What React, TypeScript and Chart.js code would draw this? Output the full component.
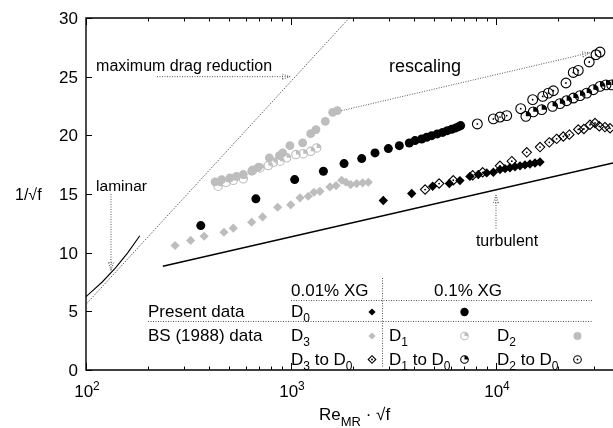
import React, { useEffect, useRef } from 'react';
import { Chart, registerables } from 'chart.js';
Chart.register(...registerables);

const FONT = '"Liberation Sans", Arial, Helvetica, sans-serif';

// ---- axis ticks ----
const yTickValues = [0, 5, 10, 15, 20, 25, 30];
const xTickExponents = [2, 3, 4];

// ---- reference lines ----
const turbulentX = [237, 37220];
const turbulentY = [8.85, 17.65];
const laminarX = [100, 120, 140, 160, 183];
const laminarY = [6.25, 7.5, 8.75, 10.0, 11.44];
const mdrX = [100, 1923];
const mdrY = [5.6, 30];

// ---- Present data, 0.01% XG, D0 ----
const d0LowX = [2820, 3880, 4910, 5920, 6670, 7460, 8200, 9010, 9710, 10460, 11070, 11700, 12380, 13100, 13850, 14650, 15500, 16390];
const d0LowY = [14.44, 15.04, 15.66, 15.89, 16.14, 16.5, 16.66, 16.8, 16.85, 17.08, 17.16, 17.24, 17.32, 17.4, 17.48, 17.56, 17.64, 17.73];

// ---- Present data, 0.1% XG, D0 ----
const d0HighX = [363, 674, 1042, 1439, 1815, 2213, 2570, 2985, 3377, 3776, 4027, 4339, 4590, 4857, 5170, 5493, 5785, 6078, 6358, 6576, 6725];
const d0HighY = [12.31, 14.59, 16.23, 16.94, 17.59, 18.02, 18.5, 18.87, 19.12, 19.35, 19.55, 19.69, 19.83, 19.97, 20.12, 20.25, 20.4, 20.51, 20.63, 20.74, 20.83];

// ---- BS (1988), D3 ----
const d3X = [272, 324, 377, 471, 523, 643, 727, 861, 997, 1107, 1214, 1294, 1384, 1549, 1659, 1767, 1854, 1955, 2091, 2237, 2383];
const d3Y = [10.61, 11.04, 11.4, 11.74, 12.09, 12.6, 13.05, 13.87, 14.08, 14.67, 14.81, 15.15, 15.23, 15.6, 15.72, 16.17, 16.0, 15.8, 15.89, 15.95, 16.0];

// ---- BS (1988), D1 ----
const d1X = [441, 482, 523, 585, 650, 706, 775, 820, 884, 952, 1057, 1148, 1248, 1335];
const d1Y = [15.66, 16.0, 16.17, 16.29, 17.02, 17.22, 17.42, 17.7, 17.79, 18.08, 18.36, 18.44, 18.64, 18.93];

// ---- BS (1988), D2 ----
const d2X = [426, 459, 504, 543, 585, 643, 693, 784, 877, 911, 988, 1140, 1248, 1324, 1470, 1596, 1682];
const d2Y = [16.03, 16.23, 16.37, 16.51, 16.66, 16.94, 17.28, 18.08, 18.27, 18.5, 19.12, 19.35, 20.14, 20.49, 21.19, 21.96, 22.1];

// ---- rescaled: D3 to D0 ----
const d3toD0X = [4510, 5280, 6190, 7700, 8610, 10460, 11940, 14130, 16400, 18200, 19770, 21300, 22790, 25200, 26840, 28750, 30420, 31900, 34000, 36000];
const d3toD0Y = [15.38, 15.89, 16.17, 16.6, 16.85, 17.4, 17.8, 18.55, 19.0, 19.4, 19.7, 19.9, 20.06, 20.5, 20.54, 20.9, 21.05, 20.77, 20.7, 20.6];

// ---- rescaled: D1 to D0 ----
const d1toD0X = [13990, 15200, 16710, 18880, 20500, 22110, 23850, 25700, 27700, 29840, 32160, 34400, 36670];
const d1toD0Y = [21.62, 22.0, 22.19, 22.47, 22.7, 22.95, 23.18, 23.38, 23.6, 23.89, 24.17, 24.3, 24.3];

// ---- rescaled: D2 to D0 ----
const d2toD0X = [8110, 9710, 10460, 11280, 13200, 15100, 16900, 18000, 19050, 21950, 23830, 25200, 28500, 30750, 32160];
const d2toD0Y = [20.97, 21.4, 21.56, 21.68, 22.27, 23.04, 23.32, 23.6, 23.8, 24.46, 25.36, 25.53, 26.25, 26.87, 27.1];

const GRAY = '#bdbdbd';

type Marker = { kind: string; r: number; color: string };

function drawMarker(g: CanvasRenderingContext2D, x: number, y: number, m: Marker) {
  const { kind, r, color } = m;
  g.save();
  g.lineWidth = 1.1;
  g.strokeStyle = color;
  g.fillStyle = color;
  g.setLineDash([]);
  const diamond = () => {
    g.beginPath();
    g.moveTo(x, y - r);
    g.lineTo(x + r, y);
    g.lineTo(x, y + r);
    g.lineTo(x - r, y);
    g.closePath();
  };
  const circ = () => {
    g.beginPath();
    g.arc(x, y, r, 0, Math.PI * 2);
  };
  const dot = () => {
    g.beginPath();
    g.arc(x, y, 0.9, 0, Math.PI * 2);
    g.fill();
  };
  switch (kind) {
    case 'diamond': diamond(); g.fill(); break;
    case 'diamondDot': diamond(); g.stroke(); dot(); break;
    case 'circle': circ(); g.fill(); break;
    case 'circleQuarter':
      circ(); g.stroke();
      g.beginPath(); g.moveTo(x, y); g.arc(x, y, r, -Math.PI / 2, 0); g.closePath(); g.fill();
      break;
    case 'circleDot': circ(); g.stroke(); dot(); break;
  }
  g.restore();
}

type Part = [string, 'n' | 'sub' | 'sup'];
function drawRich(ctx: CanvasRenderingContext2D, x: number, base: number, parts: Part[], size: number, small: number, align: 'left' | 'center' = 'left') {
  const widths = parts.map(([t, k]) => {
    ctx.font = `${k === 'n' ? size : small}px ${FONT}`;
    return ctx.measureText(t).width;
  });
  const total = widths.reduce((a, b) => a + b, 0);
  let cx = align === 'center' ? x - total / 2 : x;
  ctx.textAlign = 'left';
  ctx.textBaseline = 'alphabetic';
  parts.forEach(([t, k], i) => {
    ctx.font = `${k === 'n' ? size : small}px ${FONT}`;
    const dy = k === 'sub' ? size * 0.33 : k === 'sup' ? -size * 0.42 : 0;
    ctx.fillText(t, cx, base + dy);
    cx += widths[i];
  });
  return cx;
}

function dottedArrow(ctx: CanvasRenderingContext2D, x1: number, y1: number, x2: number, y2: number) {
  ctx.save();
  ctx.strokeStyle = '#555';
  ctx.lineWidth = 1;
  ctx.setLineDash([1, 1.5]);
  ctx.beginPath();
  ctx.moveTo(x1, y1);
  ctx.lineTo(x2, y2);
  ctx.stroke();
  const a = Math.atan2(y2 - y1, x2 - x1);
  const L = 8, w = 0.32;
  ctx.beginPath();
  ctx.moveTo(x2 - L * Math.cos(a - w), y2 - L * Math.sin(a - w));
  ctx.lineTo(x2, y2);
  ctx.lineTo(x2 - L * Math.cos(a + w), y2 - L * Math.sin(a + w));
  ctx.closePath();
  ctx.stroke();
  ctx.restore();
}

export default function App() {
  const ref = useRef<HTMLCanvasElement>(null);
  useEffect(() => {
    document.body.style.margin = '0';
    document.body.style.overflow = 'hidden';
    const pts = (xs: number[], ys: number[]) => xs.map((x, i) => ({ x, y: ys[i] }));

    const mk: Record<string, Marker> = {
      diamondBlack: { kind: 'diamond', r: 4.7, color: '#000' },
      circleBlack: { kind: 'circle', r: 4.5, color: '#000' },
      diamondGray: { kind: 'diamond', r: 4.6, color: GRAY },
      quarterGray: { kind: 'circleQuarter', r: 4.2, color: GRAY },
      circleGray: { kind: 'circle', r: 4.4, color: GRAY },
      diamondDot: { kind: 'diamondDot', r: 4.7, color: '#000' },
      quarterBlack: { kind: 'circleQuarter', r: 4.9, color: '#000' },
      circleDot: { kind: 'circleDot', r: 4.9, color: '#000' },
    };
    const small = (m: Marker, r: number): Marker => ({ ...m, r });

    const scat = (xs: number[], ys: number[], marker: Marker) => ({
      data: pts(xs, ys),
      showLine: false,
      pointRadius: 0,
      pointHoverRadius: 0,
      marker,
    });

    const markersPlugin = {
      id: 'markers',
      afterDatasetsDraw(chart: any) {
        const ctx: CanvasRenderingContext2D = chart.ctx;
        const { left, right, top, bottom } = chart.chartArea;
        ctx.save();
        ctx.beginPath();
        ctx.rect(left, top, right - left, bottom - top);
        ctx.clip();
        chart.data.datasets.forEach((ds: any, i: number) => {
          if (!ds.marker) return;
          const meta = chart.getDatasetMeta(i);
          meta.data.forEach((el: any) => drawMarker(ctx, el.x, el.y, ds.marker));
        });
        ctx.restore();
      },
    };

    const deco = {
      id: 'deco',
      afterDraw(chart: any) {
        const ctx: CanvasRenderingContext2D = chart.ctx;
        const xs = chart.scales.x, ys = chart.scales.y;
        const X = (v: number) => xs.getPixelForValue(v);
        const Y = (v: number) => ys.getPixelForValue(v);
        const { left, right, top, bottom } = chart.chartArea;
        ctx.save();
        // frame
        ctx.strokeStyle = '#000';
        ctx.lineWidth = 1.4;
        ctx.beginPath();
        ctx.moveTo(right + 5, top);
        ctx.lineTo(left, top);
        ctx.lineTo(left, bottom);
        ctx.lineTo(right + 5, bottom);
        ctx.stroke();
        // x ticks (top and bottom, inward)
        ctx.lineWidth = 1;
        for (const e of xTickExponents) {
          for (let k = 1; k <= 9; k++) {
            const v = k * Math.pow(10, e);
            const px = Math.round(X(v)) + 0.5;
            if (px > right + 1) continue;
            const len = k === 1 ? 7 : 3.5;
            ctx.beginPath();
            ctx.moveTo(px, bottom);
            ctx.lineTo(px, bottom - len);
            ctx.moveTo(px, top);
            ctx.lineTo(px, top + len);
            ctx.stroke();
          }
        }
        // y ticks
        for (const v of yTickValues) {
          const py = Math.round(Y(v)) + 0.5;
          ctx.beginPath();
          ctx.moveTo(left, py);
          ctx.lineTo(left + 6, py);
          ctx.stroke();
        }
        ctx.fillStyle = '#000';
        // y tick labels
        ctx.font = `17px ${FONT}`;
        ctx.textAlign = 'right';
        ctx.textBaseline = 'alphabetic';
        for (const v of yTickValues) {
          ctx.fillText(String(v), left - 8, Y(v) + 6);
        }
        // x tick labels
        for (const e of xTickExponents) {
          drawRich(ctx, X(Math.pow(10, e)) + 1, 397, [['10', 'n'], [String(e), 'sup']], 17, 12, 'center');
        }
        // axis titles
        drawRich(ctx, 15, 200, [['1/\u221Af', 'n']], 16, 12);
        drawRich(ctx, 319, 420, [['Re', 'n'], ['MR', 'sub'], [' \u00B7 \u221Af', 'n']], 17, 13);

        // annotations
        ctx.fillStyle = '#000';
        drawRich(ctx, X(112), Y(25.45), [['maximum drag reduction', 'n']], 16, 12);
        dottedArrow(ctx, X(222), Y(25), X(990), Y(25));
        drawRich(ctx, X(112), Y(15.29), [['laminar', 'n']], 15.5, 12);
        dottedArrow(ctx, X(132.4), Y(15.0), X(132.4), Y(8.5));
        drawRich(ctx, X(3006), Y(25.36), [['rescaling', 'n']], 18, 12);
        dottedArrow(ctx, X(1760), Y(22.1), X(28770), Y(27.04));
        drawRich(ctx, X(7980), Y(10.53), [['turbulent', 'n']], 16, 12);
        dottedArrow(ctx, X(10000), Y(12.06), X(10000), Y(14.9));

        // legend table
        ctx.save();
        ctx.strokeStyle = '#555';
        ctx.lineWidth = 1;
        ctx.setLineDash([1, 1.5]);
        ctx.beginPath();
        ctx.moveTo(291, 300.5); ctx.lineTo(593, 300.5);
        ctx.moveTo(148, 321.5); ctx.lineTo(593, 321.5);
        ctx.moveTo(382.5, 278); ctx.lineTo(382.5, 367);
        ctx.stroke();
        ctx.restore();

        const fs = 17, ss = 12;
        drawRich(ctx, 291, 295.5, [['0.01% XG', 'n']], fs, ss);
        drawRich(ctx, 434, 295.5, [['0.1% XG', 'n']], fs, ss);
        drawRich(ctx, 148, 316.5, [['Present data', 'n']], fs, ss);
        drawRich(ctx, 148, 340.5, [['BS (1988) data', 'n']], fs, ss);
        drawRich(ctx, 291, 316.5, [['D', 'n'], ['0', 'sub']], fs, ss);
        drawRich(ctx, 291, 340.5, [['D', 'n'], ['3', 'sub']], fs, ss);
        drawRich(ctx, 389, 340.5, [['D', 'n'], ['1', 'sub']], fs, ss);
        drawRich(ctx, 497, 340.5, [['D', 'n'], ['2', 'sub']], fs, ss);
        drawRich(ctx, 291, 364.5, [['D', 'n'], ['3', 'sub'], [' to D', 'n'], ['0', 'sub']], fs, ss);
        drawRich(ctx, 389, 364.5, [['D', 'n'], ['1', 'sub'], [' to D', 'n'], ['0', 'sub']], fs, ss);
        drawRich(ctx, 497, 364.5, [['D', 'n'], ['2', 'sub'], [' to D', 'n'], ['0', 'sub']], fs, ss);

        drawMarker(ctx, 372, 312, small(mk.diamondBlack, 3.6));
        drawMarker(ctx, 464.5, 312, small(mk.circleBlack, 4.2));
        drawMarker(ctx, 372, 336, small(mk.diamondGray, 3.6));
        drawMarker(ctx, 464.5, 336, small(mk.quarterGray, 3.8));
        drawMarker(ctx, 577.5, 336, small(mk.circleGray, 4.0));
        drawMarker(ctx, 372, 359.5, small(mk.diamondDot, 3.8));
        drawMarker(ctx, 464.5, 359.5, small(mk.quarterBlack, 3.8));
        drawMarker(ctx, 577.5, 359.5, small(mk.circleDot, 3.8));
        ctx.restore();
      },
    };

    const chart = new Chart(ref.current!, {
      type: 'scatter',
      data: {
        datasets: [
          { data: pts(mdrX, mdrY), showLine: true, pointRadius: 0, borderColor: '#333', borderWidth: 1, borderDash: [1, 1.5] },
          { data: pts(laminarX, laminarY), showLine: true, pointRadius: 0, borderColor: '#000', borderWidth: 1.1, tension: 0 },
          { data: pts(turbulentX, turbulentY), showLine: true, pointRadius: 0, borderColor: '#000', borderWidth: 1.5 },
          scat(d3X, d3Y, mk.diamondGray),
          scat(d2X, d2Y, mk.circleGray),
          scat(d1X, d1Y, mk.quarterGray),
          scat(d0HighX, d0HighY, mk.circleBlack),
          scat(d0LowX, d0LowY, mk.diamondBlack),
          scat(d3toD0X, d3toD0Y, mk.diamondDot),
          scat(d1toD0X, d1toD0Y, mk.quarterBlack),
          scat(d2toD0X, d2toD0Y, mk.circleDot),
        ] as any,
      },
      options: {
        responsive: false,
        animation: false,
        devicePixelRatio: 1,
        events: [],
        layout: { padding: { left: 86, top: 18, right: 0, bottom: 58 } },
        plugins: { legend: { display: false }, tooltip: { enabled: false } },
        scales: {
          x: { type: 'logarithmic', min: 100, max: 37220, display: false },
          y: { type: 'linear', min: 0, max: 30, display: false },
        },
      } as any,
      plugins: [markersPlugin, deco],
    });
    return () => chart.destroy();
  }, []);
  return <canvas ref={ref} width={613} height={428} style={{ display: 'block' }} />;
}
